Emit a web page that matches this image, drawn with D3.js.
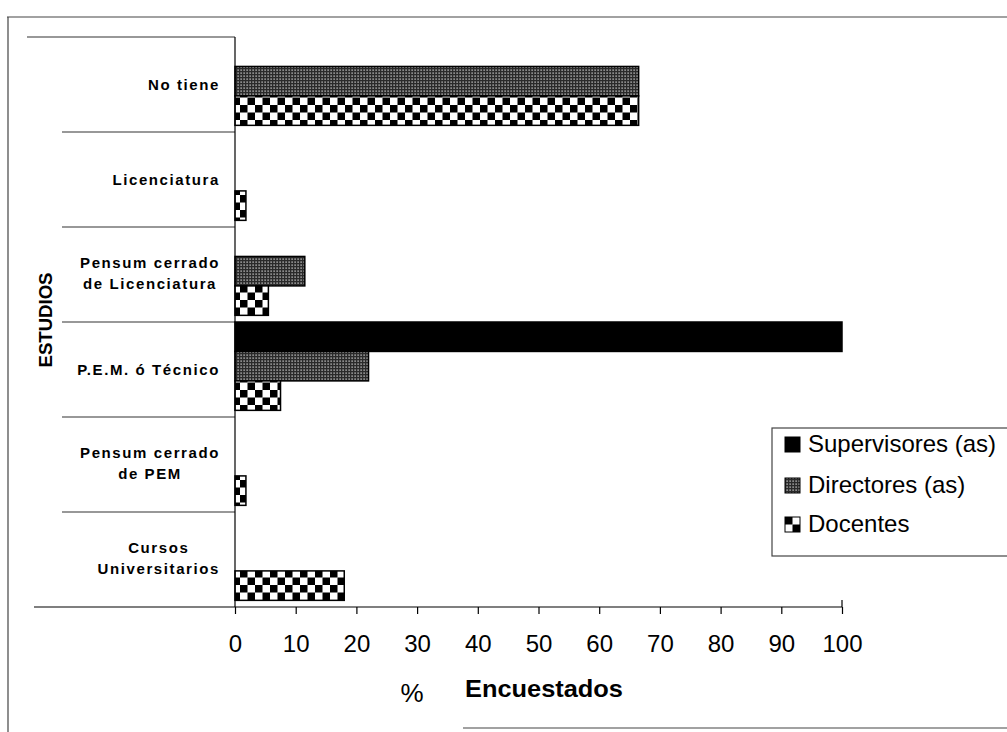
<!DOCTYPE html>
<html><head><meta charset="utf-8">
<script src="https://cdn.jsdelivr.net/npm/d3@7"></script>
<style>body{margin:0;background:#fff}svg{display:block}</style>
</head><body>
<script>
const categories = [["No tiene"],["Licenciatura"],["Pensum cerrado","de Licenciatura"],["P.E.M. ó Técnico"],["Pensum cerrado","de PEM"],["Cursos","Universitarios"]];
const seriesNames = ["Supervisores (as)","Directores (as)","Docentes"];
const supervisores = [0,0,0,100,0,0];
const directores = [66.5,0,11.5,22,0,0];
const docentes = [66.5,1.8,5.5,7.5,1.8,18];
const xTicks = [0,10,20,30,40,50,60,70,80,90,100];

const W=1007,H=732;
const svg=d3.select("body").append("svg").attr("width",W).attr("height",H);
const defs=svg.append("defs");
const pd=defs.append("pattern").attr("id","pDir").attr("patternUnits","userSpaceOnUse").attr("width",3).attr("height",3);
pd.append("rect").attr("width",3).attr("height",3).attr("fill","#2a2a2a");
pd.append("rect").attr("x",0.5).attr("y",0.5).attr("width",1.2).attr("height",1.2).attr("fill","#eee");
const pc=defs.append("pattern").attr("id","pDoc").attr("patternUnits","userSpaceOnUse").attr("width",15).attr("height",15);
pc.append("rect").attr("width",15).attr("height",15).attr("fill","#fff");
pc.append("rect").attr("width",7.5).attr("height",7.5).attr("fill","#000");
pc.append("rect").attr("x",7.5).attr("y",7.5).attr("width",7.5).attr("height",7.5).attr("fill","#000");
const pc2=defs.append("pattern").attr("id","pDocL").attr("patternUnits","userSpaceOnUse").attr("x",785).attr("y",517).attr("width",15).attr("height",15);
pc2.append("rect").attr("width",15).attr("height",15).attr("fill","#fff");
pc2.append("rect").attr("width",7.5).attr("height",7.5).attr("fill","#000");
pc2.append("rect").attr("x",7.5).attr("y",7.5).attr("width",7.5).attr("height",7.5).attr("fill","#000");

const fills=["#000","url(#pDir)","url(#pDoc)"];
const data=[supervisores,directores,docentes];

svg.append("line").attr("x1",7).attr("y1",17).attr("x2",W).attr("y2",17).attr("stroke","#444").attr("stroke-width",1.2);
svg.append("line").attr("x1",8).attr("y1",17).attr("x2",8).attr("y2",H).attr("stroke","#444").attr("stroke-width",1.2);
svg.append("line").attr("x1",463).attr("y1",728).attr("x2",W).attr("y2",728).attr("stroke","#444").attr("stroke-width",1.2);

const x=d3.scaleLinear().domain([0,100]).range([235,842]);
const y=d3.scaleBand().domain(d3.range(categories.length)).range([37,607]).padding(0);
const bw=y.bandwidth();
const y1=d3.scaleBand().domain(d3.range(3)).range([0,bw*0.93]).padding(0);

svg.append("line").attr("x1",27).attr("x2",x(0)).attr("y1",37).attr("y2",37).attr("stroke","#333").attr("stroke-width",1.2);
for(let i=1;i<categories.length;i++){
  svg.append("line").attr("x1",62).attr("x2",x(0)).attr("y1",y(i)).attr("y2",y(i)).attr("stroke","#333").attr("stroke-width",1.2);
}
categories.forEach((c,i)=>{
  data.forEach((s,j)=>{
    if(s[i]>0){
      svg.append("rect").attr("x",x(0)).attr("y",y(i)+y1(j)).attr("width",x(s[i])-x(0)).attr("height",y1.bandwidth())
        .attr("fill",fills[j]).attr("stroke","#000").attr("stroke-width",1.5);
    }
  });
});
svg.append("line").attr("x1",x(0)).attr("x2",x(0)).attr("y1",37).attr("y2",607).attr("stroke","#000").attr("stroke-width",1.2);
const xa=svg.append("g").attr("transform","translate(0,607)")
  .call(d3.axisBottom(x).tickValues(xTicks).tickSize(7).tickSizeOuter(0).tickFormat(d3.format("d")));
xa.select(".domain").remove();
xa.selectAll(".tick line").attr("stroke","#000").attr("stroke-width",1.2);
xa.selectAll(".tick text").attr("font-family","Liberation Sans, Arial").attr("font-size",24).attr("fill","#000").attr("dy",0).attr("y",45);
svg.append("line").attr("x1",34).attr("x2",x(100)).attr("y1",607).attr("y2",607).attr("stroke","#000").attr("stroke-width",1.2);
svg.append("line").attr("x1",x(100)).attr("x2",x(100)).attr("y1",600).attr("y2",607).attr("stroke","#000").attr("stroke-width",1.2);

categories.forEach((lines,i)=>{
  const cy=y(i)+bw/2;
  const g=svg.append("g");
  const ts=lines.map((l,k)=>g.append("text").text(l).attr("font-family","Liberation Sans, Arial").attr("font-weight","bold")
     .attr("font-size",15).attr("letter-spacing",1.6).attr("fill","#000")
     .attr("y", lines.length===1? cy+5 : cy-7+k*21.5));
  const widths=ts.map(t=>t.node().getComputedTextLength());
  const mw=d3.max(widths);
  const cx=220-mw/2;
  ts.forEach(t=>t.attr("x",cx).attr("text-anchor","middle"));
});

svg.append("text").text("ESTUDIOS").attr("transform","translate(52,320) rotate(-90)").attr("text-anchor","middle")
  .attr("font-family","Liberation Sans, Arial").attr("font-weight","bold").attr("font-size",19).attr("fill","#000")
  .attr("textLength",95).attr("lengthAdjust","spacingAndGlyphs");

svg.append("text").text("%").attr("x",412).attr("y",702).attr("text-anchor","middle").attr("font-family","Liberation Sans, Arial").attr("font-size",26).attr("fill","#000");
svg.append("text").text("Encuestados").attr("x",465).attr("y",697).attr("font-family","Liberation Sans, Arial").attr("font-weight","bold").attr("font-size",24).attr("fill","#000")
  .attr("textLength",158).attr("lengthAdjust","spacingAndGlyphs");

svg.append("rect").attr("x",772).attr("y",428).attr("width",W-772+5).attr("height",128).attr("fill","#fff").attr("stroke","#444").attr("stroke-width",1.2);
const lfills=["#000","url(#pDir)","url(#pDocL)"];
const ly=[452,493,532];
seriesNames.forEach((n,j)=>{
  svg.append("rect").attr("x",785).attr("y",ly[j]-15).attr("width",15).attr("height",15).attr("fill",lfills[j]).attr("stroke","#000").attr("stroke-width",1);
  svg.append("text").text(n).attr("x",808).attr("y",ly[j]).attr("font-family","Liberation Sans, Arial").attr("font-size",24).attr("fill","#000");
});
</script>
</body></html>
